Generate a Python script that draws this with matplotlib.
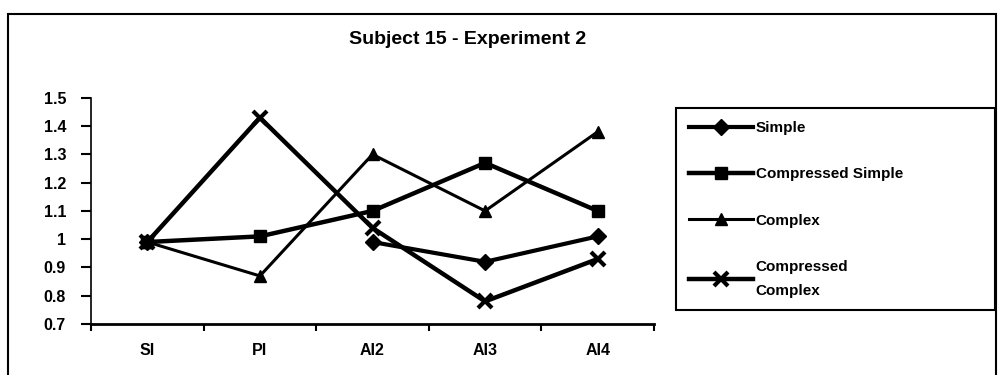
import numpy as np
import matplotlib
matplotlib.use("Agg")
import matplotlib.pyplot as plt
from matplotlib.patches import Rectangle

plt.rcParams['font.family'] = ['Liberation Sans', 'DejaVu Sans']
plt.rcParams['font.weight'] = 'bold'

categories = ['SI', 'PI', 'AI2', 'AI3', 'AI4']
simple = [0.99, np.nan, 0.99, 0.92, 1.01]
compressed_simple = [0.99, 1.01, 1.10, 1.27, 1.10]
complex_ = [0.99, 0.87, 1.30, 1.10, 1.38]
compressed_complex = [0.99, 1.43, 1.04, 0.78, 0.93]

fig = plt.figure(figsize=(9.98, 3.75), dpi=100)
ax = fig.add_axes([0.0912, 0.136, 0.5641, 0.603])

x = np.arange(len(categories))
ax.plot(x, simple, color='black', lw=3, marker='D', ms=8, label='Simple')
ax.plot(x, compressed_simple, color='black', lw=3.2, marker='s', ms=9,
        label='Compressed Simple')
ax.plot(x, complex_, color='black', lw=2.2, marker='^', ms=9, label='Complex')
ax.plot(x, compressed_complex, color='black', lw=3.2, marker='x', ms=10, mew=3,
        label='Compressed\nComplex')

ax.set_xlim(-0.5, len(categories) - 0.5)
ax.set_ylim(0.7, 1.5)
ax.set_xticks(np.arange(-0.5, len(categories), 1.0))
ax.set_xticklabels([])
ax.set_xticks(x, minor=True)
ax.set_xticklabels(categories, minor=True, fontsize=11.5, fontweight='bold')
ax.tick_params(axis='x', which='minor', length=0, pad=14)
ax.tick_params(axis='x', which='major', length=5, width=1.5, direction='out')

yt = np.round(np.arange(0.7, 1.51, 0.1), 1)
ax.set_yticks(yt)
ax.set_yticklabels([('1' if v == 1.0 else f'{v:.1f}') for v in yt],
                   fontsize=11.5, fontweight='bold')
ax.tick_params(axis='y', length=7, width=1.5, direction='out', pad=11)

for side in ['top', 'right']:
    ax.spines[side].set_visible(False)
ax.spines['left'].set_linewidth(1.2)
ax.spines['bottom'].set_linewidth(2)

fig.text(0.468, 0.895, 'Subject 15 - Experiment 2', ha='center', va='center',
         fontsize=14, fontweight='bold')

leg = fig.legend(loc='upper left', bbox_to_anchor=(0.677, 0.711, 0.32, 0.0),
                 mode='expand', fontsize=11, handlelength=4.2, handletextpad=0.2,
                 labelspacing=2.1, borderpad=0.85, fancybox=False,
                 edgecolor='black', framealpha=1, borderaxespad=0)
leg.get_frame().set_linewidth(1.5)
leg.get_texts()[3].set_linespacing(1.9)

# outer chart border
fig.add_artist(Rectangle((0.008, -0.05), 0.99, 1.013, transform=fig.transFigure,
                         fill=False, lw=1.5, edgecolor='black'))

fig.savefig('out.png', dpi=100)
